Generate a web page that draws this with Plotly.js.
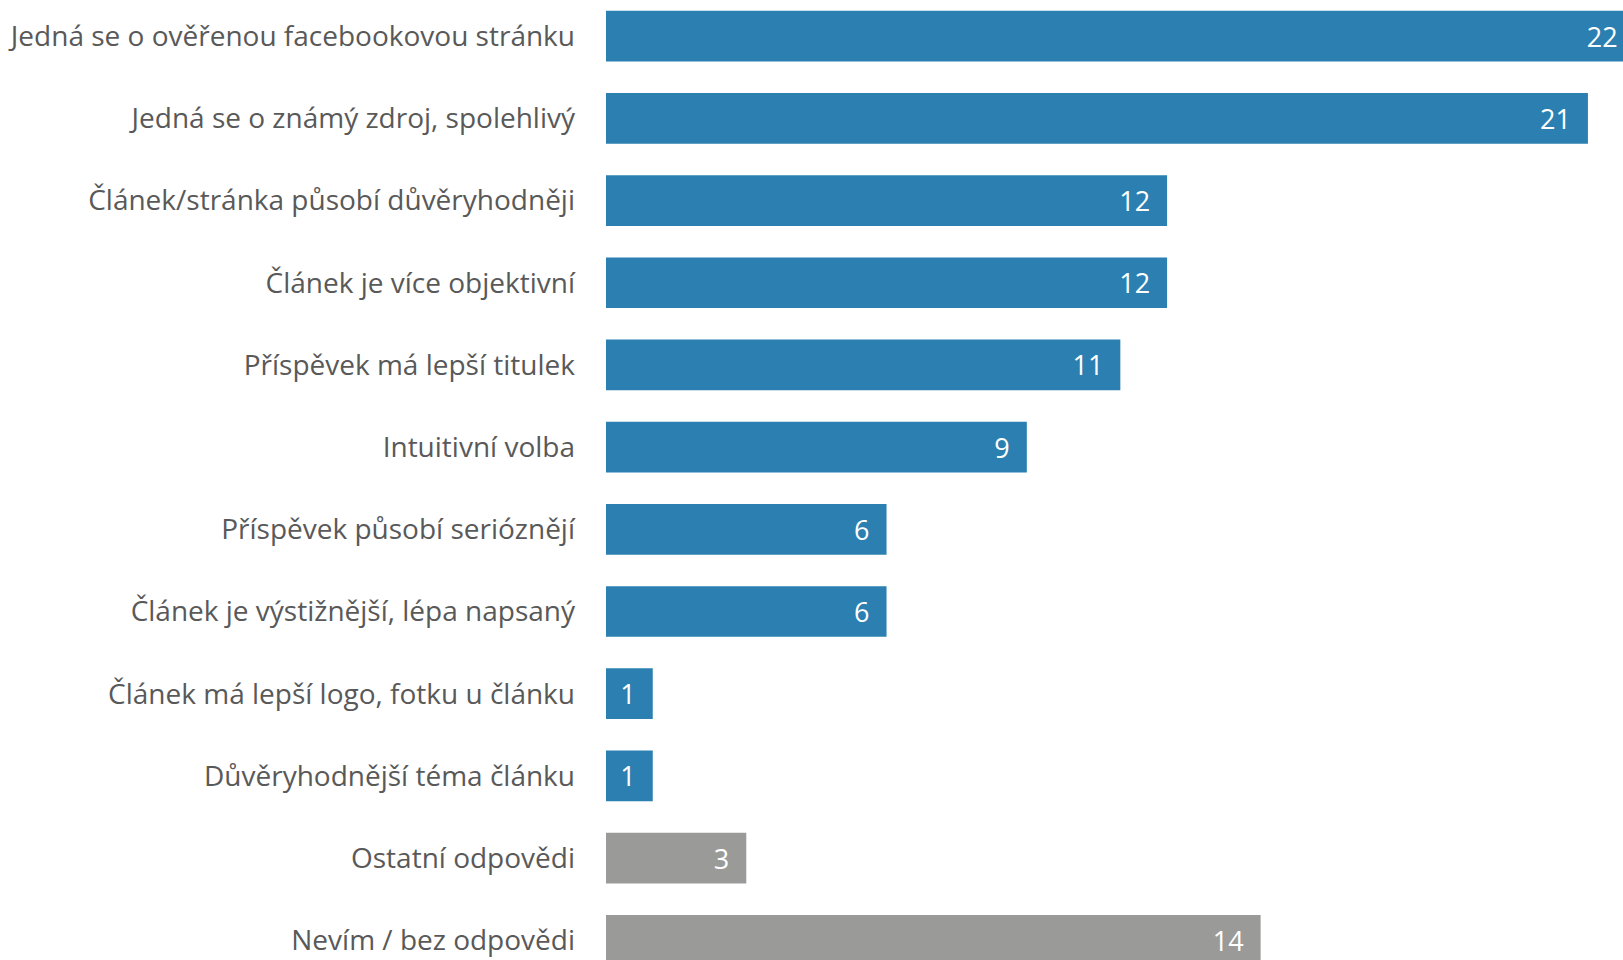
<!DOCTYPE html>
<html>
<head>
<meta charset="utf-8">
<script src="https://cdn.plot.ly/plotly-3.0.1.min.js"></script>
<style>html,body{margin:0;padding:0;background:#fff;overflow:hidden;}#chart{width:1623px;height:960px;}</style>
</head>
<body>
<div id="chart"></div>
<script>
const categories = [
  "Jedná se o ověřenou facebookovou stránku",
  "Jedná se o známý zdroj, spolehlivý",
  "Článek/stránka působí důvěryhodněji",
  "Článek je více objektivní",
  "Příspěvek má lepší titulek",
  "Intuitivní volba",
  "Příspěvek působí serióznějí",
  "Článek je výstižnější, lépa napsaný",
  "Článek má lepší logo, fotku u článku",
  "Důvěryhodnější téma článku",
  "Ostatní odpovědi",
  "Nevím / bez odpovědi"
];
const values = [22, 21, 12, 12, 11, 9, 6, 6, 1, 1, 3, 14];
const groups = ["main","main","main","main","main","main","main","main","main","main","other","other"];

const colorMap = {main: "#2B80B1", other: "#9A9B99"};
const barColors = groups.map(g => colorMap[g]);

const bars = {
  type: "bar",
  orientation: "h",
  x: values,
  y: categories,
  marker: {color: barColors, line: {width: 0}},
  hoverinfo: "x+y",
  cliponaxis: true
};

// invisible carrier bar, slightly shorter, holding the value label inside its end
const labelInset = 0.3;
const labels = {
  type: "bar",
  orientation: "h",
  x: values.map(v => v - labelInset),
  y: categories,
  marker: {color: "rgba(0,0,0,0)", line: {width: 0}},
  text: values.map(v => String(v)),
  textposition: "inside",
  insidetextanchor: "end",
  constraintext: "none",
  textfont: {family: "'Open Sans', sans-serif", size: 27, color: "#ffffff"},
  hoverinfo: "skip"
};

const layout = {
  width: 1623,
  height: 960,
  margin: {l: 606, r: 0, t: 0, b: 0, pad: 0},
  paper_bgcolor: "#ffffff",
  plot_bgcolor: "#ffffff",
  showlegend: false,
  barmode: "overlay",
  bargap: 0.383,
  xaxis: {
    range: [0, 21.75],
    showgrid: false,
    zeroline: false,
    showticklabels: false,
    showline: false,
    ticks: ""
  },
  yaxis: {
    type: "category",
    range: [11.24, -0.44],
    autorange: false,
    showgrid: false,
    zeroline: false,
    showline: false,
    ticks: "",
    ticklabelstandoff: 30,
    tickfont: {family: "'Open Sans', sans-serif", size: 28, color: "#595959"}
  }
};

Plotly.newPlot("chart", [bars, labels], layout, {staticPlot: true, displayModeBar: false});
</script>
</body>
</html>
